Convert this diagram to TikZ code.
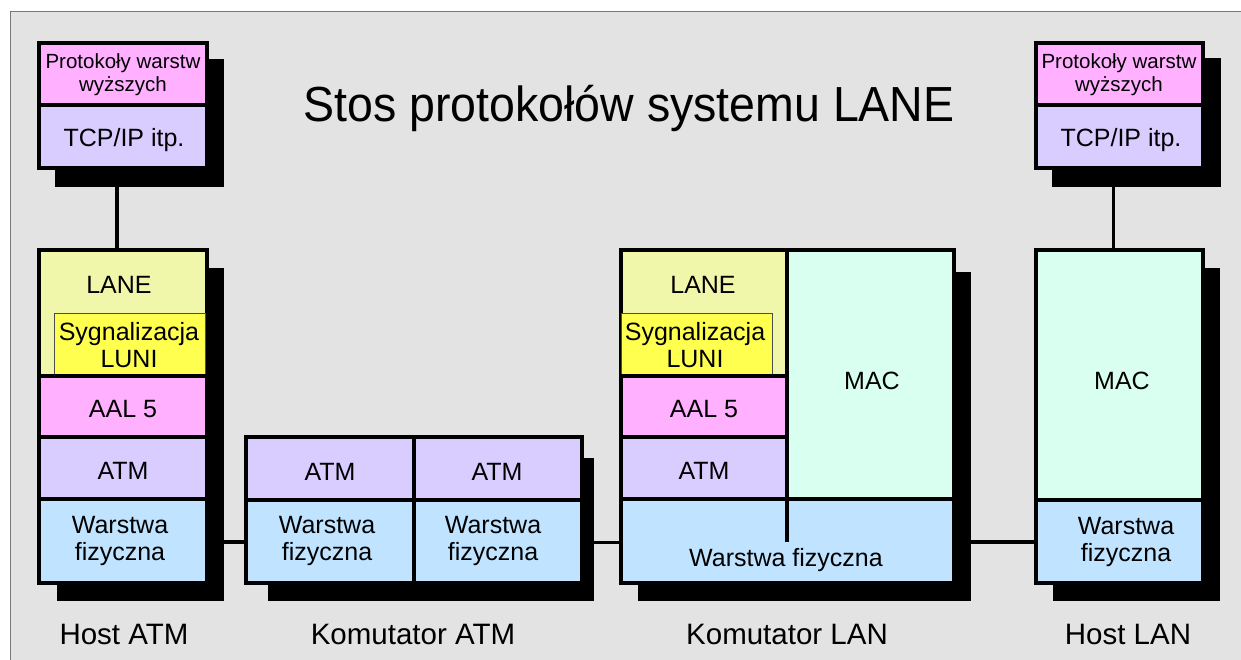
\documentclass[tikz,border=0pt]{standalone}
\usepackage{fontspec}
\setmainfont{Liberation Sans}

\definecolor{panelgray}{RGB}{227,227,227}
\definecolor{panelline}{RGB}{120,120,120}
\definecolor{cpink}{RGB}{255,176,255}
\definecolor{clav}{RGB}{217,205,255}
\definecolor{clane}{RGB}{240,246,170}
\definecolor{cyel}{RGB}{255,255,80}
\definecolor{cblue}{RGB}{192,228,255}
\definecolor{cmint}{RGB}{217,255,240}

\tikzset{
  cellbox/.style={draw=black, line width=3.5pt, inner sep=0pt, outer sep=0pt},
  sygbox/.style={draw=black!70, line width=0.8pt, inner sep=0pt, outer sep=0pt},
  shadowbox/.style={fill=black},
  txt/.style={inner sep=0pt, align=center, font=\fontsize{25}{27}\selectfont},
  small/.style={font=\fontsize{20.5}{23}\selectfont},
  caption/.style={inner sep=0pt, font=\fontsize{29.5}{32}\selectfont},
  link/.style={draw=black, line width=3.5pt},
}

% A rectangular layer given by its corners (x1,y1) and (x2,y2)
\newcommand\stackcell[7][cellbox]{%
  \pgfmathsetmacro\cellw{#5-#3}\pgfmathsetmacro\cellh{#6-#4}%
  \node[#1, fill=#7, minimum width=\cellw pt, minimum height=\cellh pt]
    (#2) at ({(#3+#5)/2},{(#4+#6)/2}) {};}

\begin{document}
\begin{tikzpicture}[x=1pt, y=-1pt]
\useasboundingbox (0,0) rectangle (1241,660);

% background panel
\fill[panelgray] (10,12) rectangle (1250,670);
\draw[panelline, line width=1pt] (10,670) -- (10,12) -- (1250,12);

% title
\node[inner sep=0pt, font=\fontsize{46.5}{50}\selectfont, yscale=1.06] (title) at (629,108)
  {Stos protokołów systemu LANE};

% shadows
\fill[shadowbox] (55,59) rectangle (224,187);
\fill[shadowbox] (57,268) rectangle (224,601);
\fill[shadowbox] (268,458) rectangle (594,601);
\fill[shadowbox] (638,272) rectangle (971,601);
\fill[shadowbox] (1053,268) rectangle (1220,601);
\fill[shadowbox] (1052,58) rectangle (1221,187);

% Host ATM: upper stack
\stackcell{hatm-up}{39}{43}{207}{105}{cpink}
\stackcell{hatm-tcp}{39}{105}{207}{168}{clav}
\node[txt, small] (hatm-uptxt) at (123,75) {Protokoły warstw\\wyższych};
\node[txt] (hatm-tcptxt) at (124,140) {TCP/IP itp.};

% Host ATM: lower stack
\stackcell{hatm-lane}{39}{250}{207}{376}{clane}
\stackcell[sygbox]{hatm-syg}{54}{313}{205.5}{376}{cyel}
\stackcell{hatm-aal}{39}{376}{207}{437}{cpink}
\stackcell{hatm-atm}{39}{437}{207}{499}{clav}
\stackcell{hatm-phy}{39}{499}{207}{583}{cblue}
\draw[line width=3.5pt] (39,376) -- (207,376);
\node[txt] (hatm-lanetxt) at (119,285) {LANE};
\node[txt] (hatm-sygtxt) at (129,345) {Sygnalizacja\\LUNI};
\node[txt] (hatm-aaltxt) at (123,409) {AAL 5};
\node[txt] (hatm-atmtxt) at (123,471) {ATM};
\node[txt] (hatm-phytxt) at (120,541) {Warstwa\\fizyczna};

% Komutator ATM
\stackcell{katm-atm1}{246}{437}{414}{500}{clav}
\stackcell{katm-atm2}{414}{437}{582}{500}{clav}
\stackcell{katm-phy1}{246}{500}{414}{583}{cblue}
\stackcell{katm-phy2}{414}{500}{582}{583}{cblue}
\node[txt] (katm-atm1txt) at (330,472) {ATM};
\node[txt] (katm-atm2txt) at (497,472) {ATM};
\node[txt] (katm-phy1txt) at (327,541) {Warstwa\\fizyczna};
\node[txt] (katm-phy2txt) at (493,541) {Warstwa\\fizyczna};

% Komutator LAN
\stackcell{klan-lane}{621}{250}{787}{376}{clane}
\stackcell[sygbox]{klan-syg}{621}{313}{772}{376}{cyel}
\stackcell{klan-aal}{621}{376}{787}{437}{cpink}
\stackcell{klan-atm}{621}{437}{787}{499}{clav}
\stackcell{klan-mac}{787}{250}{954}{499}{cmint}
\stackcell{klan-phy}{621}{499}{954}{583}{cblue}
\draw[line width=3.5pt] (621,376) -- (787,376);
\coordinate (klan-split) at (787,542);
\draw[line width=3.5pt] (klan-mac.south west) -- (klan-split);
\node[txt] (klan-lanetxt) at (703,285) {LANE};
\node[txt] (klan-sygtxt) at (695,345) {Sygnalizacja\\LUNI};
\node[txt] (klan-aaltxt) at (704,409) {AAL 5};
\node[txt] (klan-atmtxt) at (704,471) {ATM};
\node[txt] (klan-mactxt) at (872,381) {MAC};
\node[txt] (klan-phytxt) at (786,560) {Warstwa fizyczna};

% Host LAN: lower stack
\stackcell{hlan-mac}{1036}{250}{1203}{500}{cmint}
\stackcell{hlan-phy}{1036}{500}{1203}{583}{cblue}
\node[txt] (hlan-mactxt) at (1122,381) {MAC};
\node[txt] (hlan-phytxt) at (1126,542) {Warstwa\\fizyczna};

% Host LAN: upper stack
\stackcell{hlan-up}{1036}{43}{1203}{105}{cpink}
\stackcell{hlan-tcp}{1036}{105}{1203}{168}{clav}
\node[txt, small] (hlan-uptxt) at (1119,75) {Protokoły warstw\\wyższych};
\node[txt] (hlan-tcptxt) at (1121,140) {TCP/IP itp.};

% connections
\draw[link] ([xshift=-6pt]hatm-tcp.south) -- ([xshift=-6pt]hatm-lane.north);
\draw[link] ([xshift=-6pt]hlan-tcp.south) -- ([xshift=-6pt]hlan-mac.north);
\draw[link] ([yshift=-1pt]hatm-phy.east) -- ([yshift=-1pt]hatm-phy.east -| katm-phy1.west);
\draw[link] ([yshift=-1pt]katm-phy2.east) -- ([yshift=-1pt]katm-phy2.east -| klan-phy.west);
\draw[link] ([yshift=-1pt]klan-phy.east) -- ([yshift=-1pt]klan-phy.east -| hlan-phy.west);

% captions
\node[caption] (cap1) at (124,634) {Host ATM};
\node[caption] (cap2) at (413,634) {Komutator ATM};
\node[caption] (cap3) at (787,634) {Komutator LAN};
\node[caption] (cap4) at (1128,634) {Host LAN};
\end{tikzpicture}
\end{document}
